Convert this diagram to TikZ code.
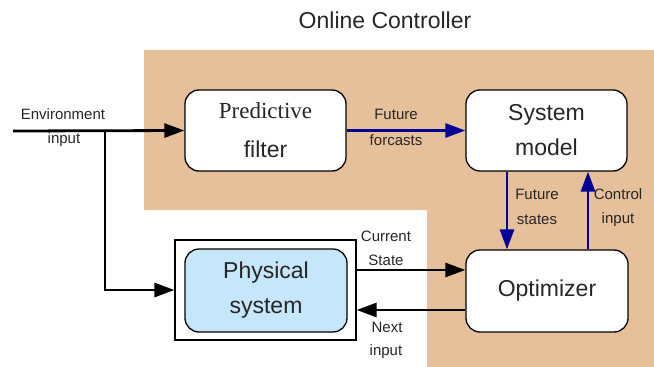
\documentclass[tikz,border=0pt]{standalone}
\usepackage{fontspec}
\setmainfont{Liberation Sans}
\newfontfamily\serifont{Liberation Serif}
\usetikzlibrary{arrows.meta,calc}
\definecolor{tan}{RGB}{229,192,154}
\definecolor{navy}{RGB}{0,0,150}
\definecolor{physblue}{RGB}{198,230,250}
\tikzset{
  blk/.style={draw=black,line width=1.3pt,rounded corners=14pt,fill=white,
    minimum width=161pt,minimum height=81pt,inner sep=0pt,align=center,
    text=black!85},
  bigtxt/.style={font=\fontsize{23}{35}\selectfont},
  lbl/.style={font=\fontsize{15}{18}\selectfont,text=black!85,inner sep=0pt},
  tip/.style={-{Triangle[length=20pt,width=14pt]}},
  blkarrow/.style={line width=2.8pt,tip},
  bluearrow/.style={line width=2.8pt,tip,color=navy},
}
\begin{document}
\begin{tikzpicture}[x=1pt,y=-1pt]
\useasboundingbox (0,0) rectangle (654,367);
% background controller region
\fill[tan] (144,50) -- (654,50) -- (654,367) -- (427,367) -- (427,210) -- (144,210) -- cycle;
% title
\node[font=\fontsize{23}{27}\selectfont,text=black!85] (title) at (385,20) {Online Controller};
% boxes
\node[blk,font=\fontsize{23}{39}\selectfont] (pf) at (265.5,130.5) {{\serifont Predictive}\\filter};
\node[blk,bigtxt] (sm) at (546.5,130.5) {System\\model};
\node[blk,bigtxt,minimum width=162pt,minimum height=82pt] (opt) at (547,291) {Optimizer};
\node[draw=black,line width=1.2pt,fill=white,minimum width=181pt,minimum height=100pt,inner sep=0pt] (outer) at (265.5,290) {};
\node[blk,bigtxt,fill=physblue,minimum width=162pt,minimum height=83pt] (phys) at (266,290.5) {Physical\\system};
% environment input
\coordinate (envL) at (13,131);
\coordinate (br) at (105,131);
\draw[blkarrow] (br) |- (outer.west);
\draw[blkarrow] (envL) -- (pf.west);
\node[lbl] (envt1) at (63,114) {Environment};
\node[lbl] (envt2) at (64,140) {input};
% future forcasts
\draw[bluearrow] (pf.east) -- (sm.west);
\node[lbl] (ff1) at (396,114) {Future};
\node[lbl] (ff2) at (396,140) {forcasts};
% future states
\draw[bluearrow] ([xshift=-39.5pt]sm.south) -- ([xshift=-40pt]opt.north);
\node[lbl] (fs1) at (537,194) {Future};
\node[lbl] (fs2) at (537,220) {states};
% control input
\draw[bluearrow] ([xshift=41pt]opt.north) -- ([xshift=41.5pt]sm.south);
\node[lbl] (ci1) at (618,194) {Control};
\node[lbl] (ci2) at (618,220) {input};
% current state
\coordinate (cs1) at ([yshift=20pt]outer.east);
\draw[blkarrow] (cs1) -- (cs1 -| opt.west);
\node[lbl] (cst1) at (386,236) {Current};
\node[lbl] (cst2) at (386,260) {State};
% next input
\coordinate (ni1) at ([yshift=-20pt]outer.east);
\draw[blkarrow] (ni1 -| opt.west) -- (ni1);
\node[lbl] (nit1) at (387,327) {Next};
\node[lbl] (nit2) at (386,352) {input};
\end{tikzpicture}
\end{document}
